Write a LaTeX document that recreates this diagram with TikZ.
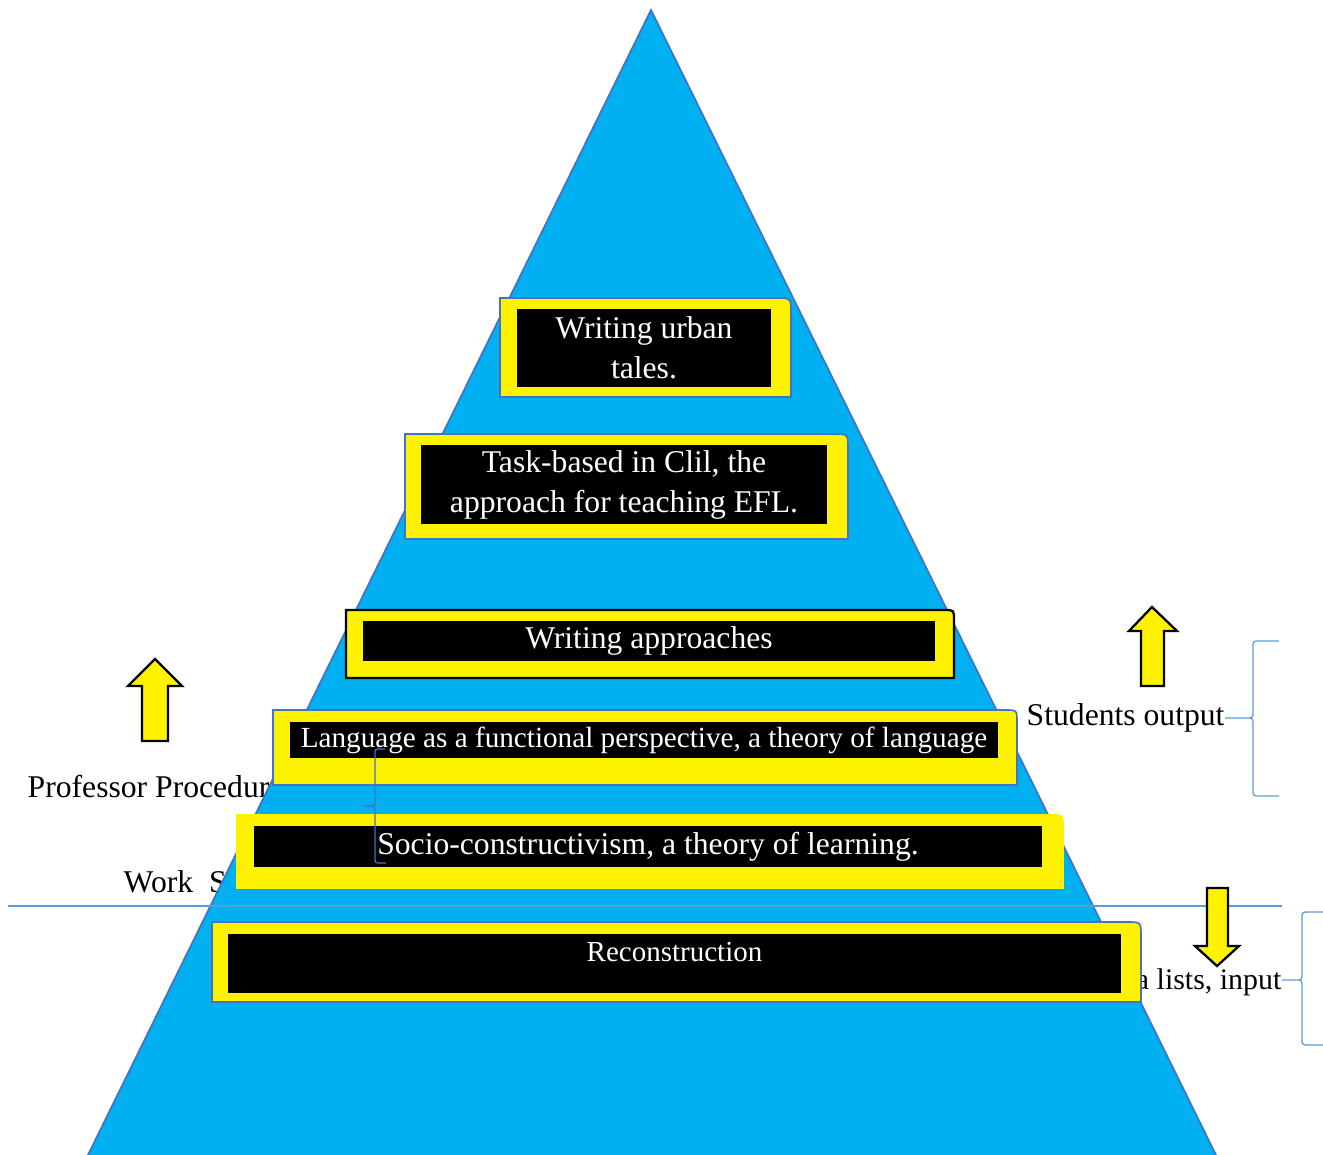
\documentclass[tikz,border=0pt]{standalone}
\usepackage{fontspec}
\setmainfont{Liberation Serif}
\usepackage{xcolor}
\usepackage{tikz}
\usetikzlibrary{positioning, calc}
\definecolor{pyrblue}{HTML}{00B0F0}
\definecolor{edgeblue}{HTML}{4472C4}
\definecolor{braceblue}{HTML}{5B9BD5}
\tikzstyle{tabframe} = [fill=yellow, draw=edgeblue, line width=0.45pt]
\tikzstyle{bigarrow} = [fill=yellow, draw=black, line width=0.65pt, line join=miter]

\begin{document}
\begin{tikzpicture}[x=0.01cm, y=-0.01cm,
    box/.style={fill=black, text=white, align=center, inner sep=0pt, font=\fontsize{9}{11.4}\selectfont},
    sidetext/.style={inner sep=0pt, font=\fontsize{9}{11.4}\selectfont},
    curly/.style={draw=braceblue, line width=0.35pt}
]
\useasboundingbox (0,0) rectangle (1323,1155);
\clip (0,0) rectangle (1323,1155);
\node[sidetext, anchor=base west] (prof) at (27,798) {Professor Procedur};
\node[sidetext, anchor=base west] (work) at (123,893) {Work~~S};
\node[sidetext, anchor=base east, font=\fontsize{8.5}{11}\selectfont] (lists) at (1282,990) {a lists, input};
\path[fill=pyrblue, draw=edgeblue, line width=0.5pt] (651,10) -- (1223.4,1170) -- (80.6,1170) -- cycle;
\draw[braceblue, line width=0.35pt] (8,906) -- (1282,906);
\path[tabframe] (500,298) -- (776,298) .. controls (791,298) .. (791,313) -- (791,397) -- (500,397) -- cycle;
\path[tabframe] (405,434) -- (833,434) .. controls (848,434) .. (848,449) -- (848,539) -- (405,539) -- cycle;
\path[tabframe, draw=black, line width=0.65pt] (346,610) -- (944,610) .. controls (954,610) .. (954,620) -- (954,678) -- (346,678) -- cycle;
\path[tabframe] (273,710) -- (1005,710) .. controls (1017,710) .. (1017,722) -- (1017,785) -- (273,785) -- cycle;
\path[tabframe, draw=yellow] (237,815) -- (1053,815) .. controls (1063,815) .. (1063,825) -- (1063,888) -- (237,888) -- cycle;
\path[tabframe] (212,922) -- (1127,922) .. controls (1141,922) .. (1141,936) -- (1141,1002) -- (212,1002) -- cycle;
\node[box, minimum width=2.54cm, minimum height=0.78cm] (urban) at (644,348) {Writing urban\\tales.};
\node[box, minimum width=4.06cm, minimum height=0.79cm] (task) at (624,484.5) {Task-based in Clil, the\\approach for teaching EFL.};
\node[box, minimum width=5.72cm, minimum height=0.40cm] (wapp) at (649,641) {Writing approaches};
\node[box, minimum width=7.08cm, minimum height=0.36cm, font=\fontsize{8.3}{10}\selectfont] (lang) at (644,740) {Language as a functional perspective, a theory of language};
\node[box, minimum width=7.88cm, minimum height=0.41cm] (socio) at (648,846.5) {Socio-constructivism, a theory of learning.};
\node[box, minimum width=8.93cm, minimum height=0.59cm] (recon) at (674.5,963.5) {};
\node[sidetext, text=white, anchor=base, font=\fontsize{8.25}{10}\selectfont] (recontext) at ($(recon.north)+(0,28)$) {Reconstruction};
\node[sidetext, anchor=base west] (output) at (1026,726) {Students output};
\path[bigarrow] (155,659) -- (182,686) -- (168,686) -- (168,741) -- (142,741) -- (142,686) -- (128,686) -- cycle;
\path[bigarrow] (1152,607) -- (1177,631) -- (1164,631) -- (1164,686) -- (1141,686) -- (1141,631) -- (1129,631) -- cycle;
\path[bigarrow] (1207,888) -- (1228,888) -- (1228,946) -- (1239,946) -- (1217,966) -- (1195,946) -- (1207,946) -- cycle;
\path[curly] (1279,641) -- (1260,641) .. controls (1253,641) .. (1253,648) -- (1253,711) .. controls (1253,718) .. (1246,718) -- (output.east |- 1227,718)
    (output.east |- 1227,718) -- (1246,718) .. controls (1253,718) .. (1253,725) -- (1253,789) .. controls (1253,796) .. (1260,796) -- (1279,796);
\path[curly] (1323,912) -- (1309,912) .. controls (1302,912) .. (1302,919) -- (1302,973) .. controls (1302,980) .. (1295,980) -- (lists.east |- 1284,980)
    (lists.east |- 1284,980) -- (1295,980) .. controls (1302,980) .. (1302,987) -- (1302,1038) .. controls (1302,1045) .. (1309,1045) -- (1323,1045);
\path[curly, draw=edgeblue] (385,749) -- (381,749) .. controls (375,749) .. (375,755) -- (375,800) .. controls (375,806) .. (369,806) -- (364,806)
    (364,806) -- (369,806) .. controls (375,806) .. (375,812) -- (375,857) .. controls (375,863) .. (381,863) -- (386,863);
\end{tikzpicture}
\end{document}
